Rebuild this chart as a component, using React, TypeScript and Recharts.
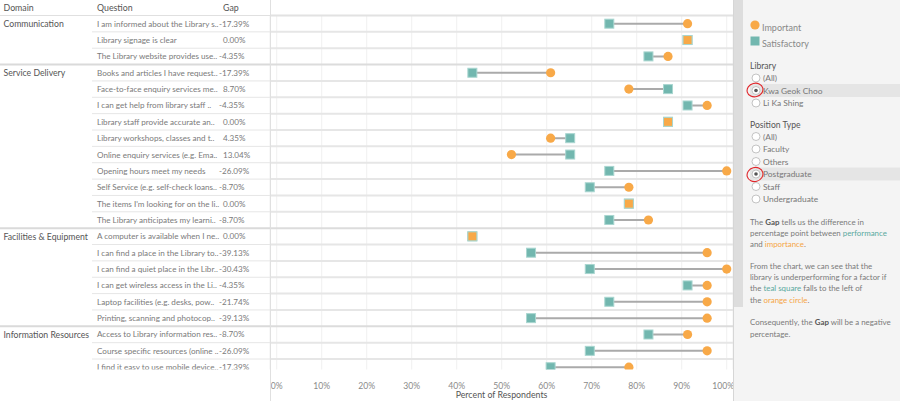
import { ScatterChart, Scatter, XAxis, YAxis, CartesianGrid, ReferenceLine } from "recharts";

// survey rows (Kwa Geok Choo, Postgraduate)
const domains = ["Communication", "Service Delivery", "Facilities & Equipment", "Information Resources"];
const rowDomain = [0, 0, 0, 1, 1, 1, 1, 1, 1, 1, 1, 1, 1, 2, 2, 2, 2, 2, 2, 3, 3, 3];
const questions = [
  "I am informed about the Library s..",
  "Library signage is clear",
  "The Library website provides use..",
  "Books and articles I have request..",
  "Face-to-face enquiry services me..",
  "I can get help from library staff ..",
  "Library staff provide accurate an..",
  "Library workshops, classes and t..",
  "Online enquiry services (e.g. Ema..",
  "Opening hours meet my needs",
  "Self Service (e.g. self-check loans..",
  "The items I'm looking for on the li..",
  "The Library anticipates my learni..",
  "A computer is available when I ne..",
  "I can find a place in the Library to..",
  "I can find a quiet place in the Libr..",
  "I can get wireless access in the Li..",
  "Laptop facilities (e.g. desks, pow..",
  "Printing, scanning and photocop..",
  "Access to Library information res..",
  "Course specific resources (online ..",
  "I find it easy to use mobile device..",
];
const gaps = [-17.39, 0, -4.35, -17.39, 8.7, -4.35, 0, 4.35, 13.04, -26.09, -8.7, 0, -8.7, 0, -39.13, -30.43, -4.35, -21.74, -39.13, -8.7, -26.09, -17.39];
const important = [91.3, 91.3, 86.96, 60.87, 78.26, 95.65, 86.96, 60.87, 52.17, 100, 78.26, 78.26, 82.61, 43.48, 95.65, 100, 95.65, 95.65, 95.65, 91.3, 95.65, 78.26];
const satisfactory = [73.91, 91.3, 82.61, 43.48, 86.96, 91.3, 86.96, 65.22, 65.22, 73.91, 69.57, 78.26, 73.91, 43.48, 56.52, 69.57, 91.3, 73.91, 56.52, 82.61, 69.57, 60.87];
const xTicks = [0, 10, 20, 30, 40, 50, 60, 70, 80, 90, 100];

const ORANGE = "#f8a948";
const TEAL = "#72b7af";
const ROW_H = 16.36;
const FONT = "Lato, sans-serif";

const impData = important.map((v, i) => ({ x: v, y: i, same: v === satisfactory[i] }));
const satData = satisfactory.map((v, i) => ({ x: v, y: i }));
const rowIdx = questions.map((_, i) => i);

const TableTick = (props: any) => {
  const i = props.payload.value as number;
  const y = props.y as number;
  const first = i === 0 || rowDomain[i] !== rowDomain[i - 1];
  const lastInDomain = i === questions.length - 1 || rowDomain[i] !== rowDomain[i + 1];
  const g = gaps[i];
  return (
    <g>
      <defs>
        <clipPath id={`tclip-${i}`}>
          <rect x={0} y={15} width={270} height={354.5} />
        </clipPath>
      </defs>
      <g clipPath={`url(#tclip-${i})`} fontFamily={FONT}>
        {first && (
          <text x={3.5} y={y} dominantBaseline="central" fontSize={8.7} fill="#555">
            {domains[rowDomain[i]]}
          </text>
        )}
        <text x={97} y={y} dominantBaseline="central" fontSize={8.1} fill="#7a7a7a">
          {questions[i]}
        </text>
        <text x={g < 0 ? 219 : 223} y={y} dominantBaseline="central" fontSize={8.1} fill="#7a7a7a">
          {g.toFixed(2) + "%"}
        </text>
        <line
          x1={lastInDomain ? 0 : 92}
          x2={270}
          y1={y + ROW_H / 2}
          y2={y + ROW_H / 2}
          stroke={lastInDomain ? "#dadada" : "#e6e6e6"}
          strokeWidth={lastInDomain ? 2 : 1}
        />
      </g>
    </g>
  );
};

const XTick = (props: any) => {
  const v = props.payload.value as number;
  const shift = v === 100 ? -3.5 : 0;
  return (
    <text x={props.x + shift} y={props.y + 4} textAnchor="middle" dominantBaseline="central" fontSize={8.6} fill="#8a8a8a" fontFamily={FONT}>
      {v + "%"}
    </text>
  );
};

const SatShape = (p: any) => (
  <rect x={p.cx - 4.5} y={p.cy - 4.5} width={9} height={9} fill={TEAL} stroke="#a9d6d0" strokeWidth={1} />
);

const ImpShape = (p: any) =>
  p.payload.same ? (
    <rect x={p.cx - 4.5} y={p.cy - 4.5} width={9} height={9} fill={ORANGE} stroke="#a9d6d0" strokeWidth={1} />
  ) : (
    <circle cx={p.cx} cy={p.cy} r={4.6} fill={ORANGE} />
  );

const Radio = ({ y, label, on }: { y: number; label: string; on?: boolean }) => (
  <g>
    {on && <rect x={750} y={y - 6.5} width={150} height={13} fill="#e5e5e5" />}
    <circle cx={756} cy={y} r={4} fill="#fff" stroke="#b5b5b5" strokeWidth={0.8} />
    {on && <circle cx={756} cy={y} r={1.8} fill="#555" />}
    <text x={763} y={y} dominantBaseline="central" fontSize={8.4} fill="#777">
      {label}
    </text>
  </g>
);

const Note = ({ y, children }: { y: number; children: any }) => (
  <text x={750} y={y} dominantBaseline="central" fontSize={7.9} fill="#7a7a7a">
    {children}
  </text>
);

export default function App() {
  return (
    <div
      style={{
        position: "absolute",
        left: 0,
        top: 0,
        width: 900,
        height: 401,
        background: "#fff",
        fontFamily: FONT,
        overflow: "hidden",
      }}
    >
      <ScatterChart width={733} height={401} margin={{ top: 15.5, right: 0, bottom: 0, left: 0 }}>
        <CartesianGrid horizontal={false} stroke="#f0f0f0" />
        <XAxis
          type="number"
          dataKey="x"
          domain={[-1.49, 101.4]}
          allowDataOverflow
          ticks={xTicks}
          interval={0}
          axisLine={false}
          tickLine={false}
          tickMargin={6}
          height={31.5}
          tick={<XTick />}
          label={{ value: "Percent of Respondents", position: "insideBottom", offset: 3, fontSize: 8.8, fill: "#555", fontFamily: FONT }}
        />
        <YAxis
          type="number"
          dataKey="y"
          domain={[-0.5, 21.14]}
          reversed
          allowDataOverflow
          ticks={rowIdx}
          interval={0}
          width={270}
          axisLine={false}
          tickLine={false}
          tick={<TableTick />}
        />
        <ReferenceLine y={-0.5} stroke="#e2e2e2" strokeWidth={2} />
        {rowIdx.slice(0, -1).map((i) => (
          <ReferenceLine
            key={"sep" + i}
            y={i + 0.5}
            stroke={rowDomain[i] !== rowDomain[i + 1] ? "#dcdcdc" : "#e6e6e6"}
            strokeWidth={2}
          />
        ))}
        {rowIdx.map((i) => (
          <Scatter
            key={"bar" + i}
            data={[satData[i], impData[i]]}
            line={{ stroke: "#aaaaaa", strokeWidth: 2 }}
            shape={() => <g />}
            isAnimationActive={false}
          />
        ))}
        <Scatter name="Satisfactory" data={satData} shape={SatShape} isAnimationActive={false} />
        <Scatter name="Important" data={impData} shape={ImpShape} isAnimationActive={false} />
      </ScatterChart>

      {/* table header */}
      <div style={{ position: "absolute", left: 0, top: 0, width: 270, height: 15, fontSize: 8.8, color: "#555", lineHeight: "15px" }}>
        <span style={{ position: "absolute", left: 3.5 }}>Domain</span>
        <span style={{ position: "absolute", left: 97 }}>Question</span>
        <span style={{ position: "absolute", left: 223 }}>Gap</span>
      </div>
      <div style={{ position: "absolute", left: 0, top: 14.5, width: 270, height: 1.5, background: "#e0e0e0" }} />
      <div style={{ position: "absolute", left: 269.5, top: 0, width: 1, height: 401, background: "#e0e0e0" }} />

      {/* side panel */}
      <svg width={167} height={401} style={{ position: "absolute", left: 733, top: 0 }} fontFamily={FONT}>
        <g transform="translate(-733,0)">
          <rect x={733} y={0} width={167} height={401} fill="#f4f4f4" />
          <rect x={733} y={0} width={10} height={307} fill="#dddddd" />
          <line x1={733.5} x2={733.5} y1={0} y2={401} stroke="#d6d6d6" />

          <circle cx={755} cy={25} r={4.6} fill={ORANGE} />
          <text x={762} y={27} dominantBaseline="central" fontSize={9} fill="#888">Important</text>
          <rect x={750.5} y={36.5} width={9} height={9} fill={TEAL} />
          <text x={762} y={43} dominantBaseline="central" fontSize={9} fill="#888">Satisfactory</text>

          <text x={750} y={66} dominantBaseline="central" fontSize={8.6} fill="#555">Library</text>
          <Radio y={78} label="(All)" />
          <Radio y={90.5} label="Kwa Geok Choo" on />
          <Radio y={103} label="Li Ka Shing" />

          <text x={750} y={124.5} dominantBaseline="central" fontSize={8.6} fill="#555">Position Type</text>
          <Radio y={136.5} label="(All)" />
          <Radio y={149} label="Faculty" />
          <Radio y={161.5} label="Others" />
          <Radio y={174} label="Postgraduate" on />
          <Radio y={186.5} label="Staff" />
          <Radio y={199} label="Undergraduate" />

          <ellipse cx={755} cy={90} rx={8} ry={6.8} fill="none" stroke="#e0262b" strokeWidth={1.1} transform="rotate(-15 755 90)" />
          <ellipse cx={755} cy={174.5} rx={8} ry={7} fill="none" stroke="#e0262b" strokeWidth={1.1} transform="rotate(-15 755 174.5)" />

          <Note y={221.7}>
            The <tspan fill="#555" fontWeight="bold">Gap</tspan> tells us the difference in
          </Note>
          <Note y={232.7}>
            percentage point between <tspan fill="#5aa9a0">performance</tspan>
          </Note>
          <Note y={243.7}>
            and <tspan fill="#f5a545">importance</tspan>.
          </Note>
          <Note y={265.7}>From the chart, we can see that the</Note>
          <Note y={277}>library is underperforming for a factor if</Note>
          <Note y={288.3}>
            the <tspan fill="#5aa9a0">teal square</tspan> falls to the left of
          </Note>
          <Note y={299.7}>
            the <tspan fill="#f5a545">orange circle</tspan>.
          </Note>
          <Note y={321.7}>
            Consequently, the <tspan fill="#555" fontWeight="bold">Gap</tspan> will be a negative
          </Note>
          <Note y={333.7}>percentage.</Note>
        </g>
      </svg>
    </div>
  );
}
